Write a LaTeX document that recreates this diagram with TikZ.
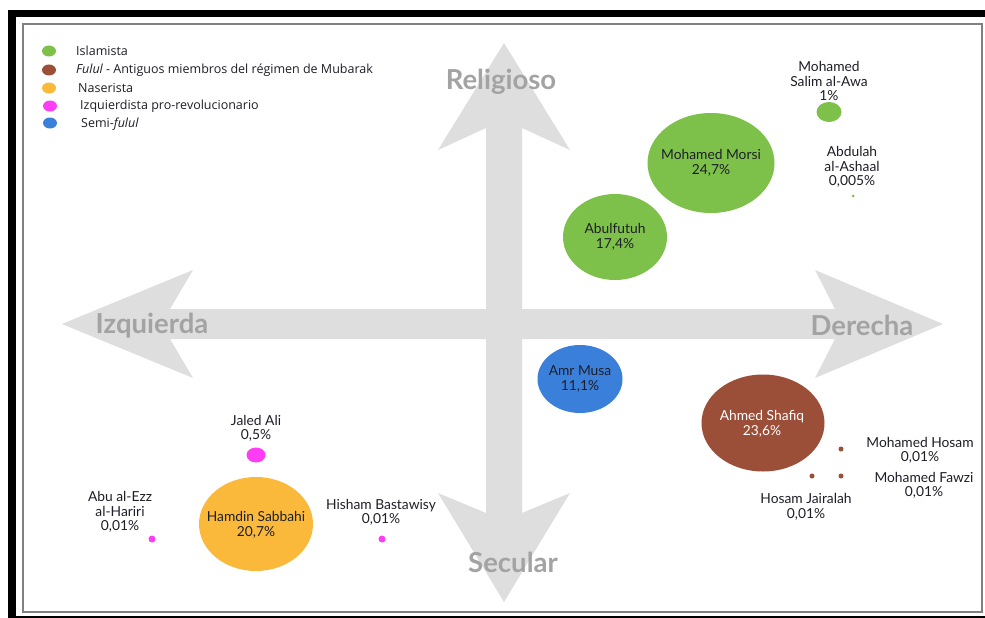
\documentclass[tikz,border=0pt]{standalone}
\usepackage{fontspec}
\setmainfont{Lato}
\newfontfamily\legendfont{Open Sans}
\usetikzlibrary{shapes.geometric}
\definecolor{arrowgray}{HTML}{DEDEDE}
\definecolor{axistext}{HTML}{A3A3A3}
\definecolor{cgreen}{HTML}{7DC14A}
\definecolor{cbrown}{HTML}{9C4F38}
\definecolor{corange}{HTML}{FBB93C}
\definecolor{cmagenta}{HTML}{FF3DF5}
\definecolor{cblue}{HTML}{3A80DA}
\definecolor{txt}{HTML}{1E1E28}
\definecolor{framegray}{HTML}{808080}
\begin{document}
\begin{tikzpicture}[x=1pt,y=-1pt,
 bubble/.style={ellipse, inner sep=0pt},
 lbl/.style={align=center, font=\fontsize{13.8}{14.5}\selectfont, text=txt, inner sep=0pt},
 axislbl/.style={font=\fontsize{27.5}{30}\selectfont\bfseries, text=axistext, inner sep=0pt},
 legdot/.style={ellipse, minimum width=14pt, minimum height=11pt, inner sep=0pt},
 legtext/.style={anchor=west, font=\fontsize{12.5}{14}\selectfont\legendfont, text=txt, inner sep=0pt},
 smalldot/.style={circle, inner sep=0pt}]

\useasboundingbox (0,0) rectangle (985,618);
\fill[white] (0,0) rectangle (985,618);
% frame
\fill[black] (8,10) rectangle (985,17);
\fill[black] (8,10) rectangle (16,618);
\fill[black] (16,616) rectangle (985,618);
\draw[framegray, line width=2pt] (22.5,24) rectangle (982,612);

% axes arrows
\fill[arrowgray] (62,324) -- (193,270) -- (170,309) -- (835,309) -- (815,270) -- (943,324)
  -- (815,378) -- (835,339) -- (170,339) -- (193,378) -- cycle;
\fill[arrowgray] (504,43) -- (570,150) -- (522,128) -- (522,513) -- (570,493) -- (504,602)
  -- (438,493) -- (486,513) -- (486,128) -- (438,150) -- cycle;

\node[axislbl] (rel) at (501,82) {Religioso};
\node[axislbl] (izq) at (152,326) {Izquierda};
\node[axislbl] (der) at (862,325) {Derecha};
\node[axislbl] (sec) at (513,562) {Secular};

% legend
\node[legdot, fill=cgreen] (lg1) at (49,51) {};
\node[legtext] (lt1) at (76,51) {Islamista};
\node[legdot, fill=cbrown] (lg2) at (49,70) {};
\node[legtext] (lt2) at (76,70) {\itshape Fulul\upshape{} - Antiguos miembros del régimen de Mubarak};
\node[legdot, fill=corange] (lg3) at (49,88) {};
\node[legtext] (lt3) at (78,88) {Naserista};
\node[legdot, fill=cmagenta] (lg4) at (50,106) {};
\node[legtext] (lt4) at (80,106) {Izquierdista pro-revolucionario};
\node[legdot, fill=cblue] (lg5) at (50,123) {};
\node[legtext] (lt5) at (81,124) {Semi-\itshape fulul};

% bubbles
\node[bubble, fill=cgreen, minimum width=127pt, minimum height=100pt] (morsi) at (711,163) {};
\node[lbl] (morsit) at (morsi.center) {Mohamed Morsi\\24,7\%};
\node[bubble, fill=cgreen, minimum width=104pt, minimum height=86pt] (abul) at (615,237) {};
\node[lbl] (abult) at (abul.center) {Abulfutuh\\17,4\%};
\node[bubble, fill=cblue, minimum width=85pt, minimum height=68pt] (musa) at (580,379) {};
\node[lbl] (musat) at (musa.center) {Amr Musa\\11,1\%};
\node[bubble, fill=cbrown, minimum width=123pt, minimum height=97pt] (shafiq) at (763,423) {};
\node[lbl, text=white] (shafiqt) at (762,424) {Ahmed Shafiq\\23,6\%};
\node[bubble, fill=corange, minimum width=114pt, minimum height=94pt] (sabbahi) at (256,524) {};
\node[lbl] (sabbahit) at (256,525) {Hamdin Sabbahi\\20,7\%};

% small dots
\node[bubble, fill=cgreen, minimum width=25pt, minimum height=20pt] (awa) at (829,112) {};
\node[lbl] (awat) at (829,81) {Mohamed\\Salim al-Awa\\1\%};
\node[smalldot, fill=cgreen, minimum size=3pt] (ashaal) at (853,196) {};
\node[lbl] (ashaalt) at (852,167) {Abdulah\\al-Ashaal\\0,005\%};
\node[bubble, fill=cmagenta, minimum width=19pt, minimum height=15pt] (jaled) at (256,455) {};
\node[lbl] (jaledt) at (256,428.5) {Jaled Ali\\0,5\%};
\node[smalldot, fill=cmagenta, minimum size=7pt] (abu) at (152,539) {};
\node[lbl] (abut) at (120,512) {Abu al-Ezz\\al-Hariri\\0,01\%};
\node[smalldot, fill=cmagenta, minimum size=7pt] (hisham) at (382,539) {};
\node[lbl] (hishamt) at (381,512.5) {Hisham Bastawisy\\0,01\%};
\node[smalldot, fill=cbrown, minimum size=5pt] (hosam) at (841,449) {};
\node[lbl] (hosamt) at (920,450.5) {Mohamed Hosam\\0,01\%};
\node[smalldot, fill=cbrown, minimum size=5pt] (fawzi) at (841,476) {};
\node[lbl] (fawzit) at (924,485.5) {Mohamed Fawzi\\0,01\%};
\node[smalldot, fill=cbrown, minimum size=5pt] (jairalah) at (812,476) {};
\node[lbl] (jairalaht) at (806,507) {Hosam Jairalah\\0,01\%};
\end{tikzpicture}
\end{document}
